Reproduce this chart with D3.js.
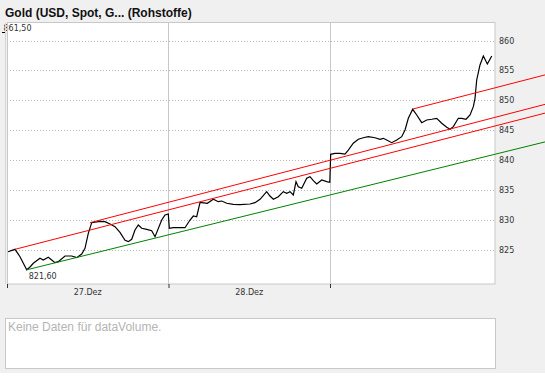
<!DOCTYPE html>
<html lang="de">
<head>
<meta charset="UTF-8">
<title>Gold (USD, Spot)</title>
<script src="https://d3js.org/d3.v7.min.js"></script>
<style>
body { margin: 0; background: #fff; }
svg { display: block; }
.ax text { font: 8px "DejaVu Sans", sans-serif; fill: #333; }
</style>
</head>
<body>
<svg id="chart" width="545" height="384"></svg>
<script>
// price path: hours after 27.12. 00:00 and price in USD
var hours = [0.15, 1.19, 1.93, 2.93, 3.42, 3.91, 4.90, 5.39, 6.14, 6.64, 7.13, 7.62, 8.62, 9.61, 10.36, 11.10,
  11.59, 12.08, 12.59, 13.82, 14.56, 15.31, 16.05, 16.79, 17.54, 18.03, 18.53, 19.02, 19.51, 20.02, 20.76, 21.50,
  22.00, 22.99, 23.48, 23.97, 24.12, 24.71, 26.45, 27.20, 27.69, 28.19, 28.68, 28.93, 29.77, 30.66, 31.40, 31.91,
  32.65, 33.63, 34.63, 36.11, 36.85, 37.60, 38.59, 39.08, 39.58, 40.32, 41.06, 41.57, 42.06, 42.55, 42.95, 43.29,
  43.80, 44.54, 45.03, 45.52, 46.03, 46.77, 47.51, 47.97, 48.10, 48.74, 49.49, 50.23, 50.72, 51.46, 52.21, 52.95,
  53.69, 54.69, 55.43, 55.92, 56.43, 57.17, 57.91, 58.66, 59.15, 59.64, 60.29, 60.89, 61.63, 62.37, 63.12, 63.86,
  64.60, 65.35, 65.84, 66.33, 67.07, 67.58, 68.21, 68.81, 69.30, 69.55, 69.80, 70.29, 70.79, 71.38, 72.04];
var prices = [824.63, 825.03, 823.79, 821.60, 822.07, 822.69, 823.53, 823.24, 823.69, 823.24, 822.79, 822.96, 823.91, 823.91, 823.63, 824.25,
  825.20, 827.71, 829.49, 829.72, 829.66, 829.27, 828.82, 827.85, 826.54, 826.31, 826.71, 828.27, 829.10, 828.55, 828.38, 828.15,
  827.14, 829.94, 830.78, 830.95, 828.55, 828.65, 828.65, 829.94, 830.61, 830.49, 832.84, 832.84, 832.74, 833.41, 833.01, 833.12,
  832.74, 832.57, 832.50, 832.62, 832.84, 833.41, 834.68, 833.96, 833.41, 833.84, 834.68, 834.41, 834.68, 834.13, 836.35, 835.52,
  835.25, 836.92, 837.19, 836.52, 835.97, 836.64, 836.36, 836.25, 840.94, 841.11, 841.11, 840.99, 841.66, 842.79, 843.46, 843.72,
  843.89, 843.72, 843.46, 843.62, 843.34, 842.89, 843.34, 843.89, 845.01, 846.97, 848.48, 847.53, 846.24, 846.69, 846.81, 846.97,
  846.14, 845.47, 845.13, 845.57, 846.97, 846.97, 846.81, 847.53, 848.92, 850.32, 853.39, 855.90, 857.41, 856.07, 857.41];

var yTicks = [825, 830, 835, 840, 845, 850, 855, 860];
var dayTicks = [0, 1, 2];          // days after 27.12.
var dayLabels = [0, 1];            // labelled days
var maxValue = 861.5, minValue = 821.6, minHour = 2.93;

// trend lines: start and end as hour / price
var trendFromHour = [2.93, 1.19, 12.33, 60.33];
var trendFromValue = [821.60, 825.03, 829.49, 848.53];
var trendToHour = [80, 80, 80, 80];
var trendToValue = [843.03, 847.85, 849.32, 854.25];
var trendKind = ["support", "resistance", "resistance", "resistance"];

var svg = d3.select("#chart");
var t0 = new Date(2007, 11, 27);
var toDate = h => new Date(t0.getTime() + h * 3600e3);
var de = d3.timeFormatLocale({
  dateTime: "%A, der %e. %B %Y, %X", date: "%d.%m.%Y", time: "%H:%M:%S",
  periods: ["AM", "PM"],
  days: ["Sonntag", "Montag", "Dienstag", "Mittwoch", "Donnerstag", "Freitag", "Samstag"],
  shortDays: ["So", "Mo", "Di", "Mi", "Do", "Fr", "Sa"],
  months: ["Januar", "Februar", "März", "April", "Mai", "Juni", "Juli", "August", "September", "Oktober", "November", "Dezember"],
  shortMonths: ["Jan", "Feb", "Mär", "Apr", "Mai", "Jun", "Jul", "Aug", "Sep", "Okt", "Nov", "Dez"]
});
var fmtDay = de.format("%d.%b");
var fmtNum = d3.format(".2f");
var deNum = v => fmtNum(v).replace(".", ",");

var plot = {left: 7, right: 495, top: 22.5, bottom: 284};

var x = d3.scaleTime()
  .domain([toDate(0), toDate(72)])
  .range([plot.left, 491.5]);
var y = d3.scaleLinear()
  .domain([825, 860])
  .range([249.5, 40.5]);

// page background
svg.append("rect").attr("width", 545).attr("height", 373).attr("fill", "#f0f0f0");

svg.append("text")
  .attr("x", 5).attr("y", 17)
  .style("font", "bold 12px 'Liberation Sans', Arial, sans-serif")
  .attr("fill", "#111")
  .text("Gold (USD, Spot, G... (Rohstoffe)");

// plot area
svg.append("rect")
  .attr("x", plot.left).attr("y", plot.top)
  .attr("width", plot.right - plot.left).attr("height", plot.bottom - plot.top)
  .attr("fill", "#fff");

// max label sits under the left border
svg.append("text")
  .attr("x", 3.5).attr("y", y(maxValue) - 1)
  .style("font", "8px 'DejaVu Sans', sans-serif").attr("fill", "#333")
  .text(deNum(maxValue));
svg.append("line")
  .attr("x1", 2).attr("x2", 6)
  .attr("y1", Math.round(y(maxValue)) + 0.5).attr("y2", Math.round(y(maxValue)) + 0.5)
  .attr("stroke", "#000");

// horizontal grid
svg.append("g")
  .selectAll("line").data(yTicks).join("line")
  .attr("x1", plot.left).attr("x2", plot.right)
  .attr("y1", d => Math.round(y(d)) + 0.5).attr("y2", d => Math.round(y(d)) + 0.5)
  .attr("stroke", "#b8b8b8").attr("stroke-dasharray", "1,2");

// vertical day lines
svg.append("g")
  .selectAll("line").data(dayTicks.slice(1)).join("line")
  .attr("x1", d => Math.round(x(toDate(d * 24))) + 0.5).attr("x2", d => Math.round(x(toDate(d * 24))) + 0.5)
  .attr("y1", plot.top).attr("y2", plot.bottom)
  .attr("stroke", "#c8c8c8");

svg.append("rect")
  .attr("x", plot.left + 0.5).attr("y", plot.top)
  .attr("width", plot.right - plot.left - 0.5).attr("height", plot.bottom - plot.top)
  .attr("fill", "none").attr("stroke", "#c8c8c8");
svg.append("line")
  .attr("x1", 5.5).attr("x2", 5.5).attr("y1", plot.top).attr("y2", plot.bottom)
  .attr("stroke", "#d4d4d4");

// y axis on the right
var yAxis = d3.axisRight(y).tickValues(yTicks).tickSize(0).tickPadding(4).tickFormat(d3.format("d"));
svg.append("g").attr("class", "ax")
  .attr("transform", `translate(${plot.right},0)`)
  .call(yAxis)
  .call(g => g.select(".domain").remove());

// x axis: ticks at midnight, labels at noon
var xAxis = d3.axisBottom(x).tickValues(dayTicks.map(d => toDate(d * 24))).tickSize(4).tickFormat("");
svg.append("g").attr("class", "ax")
  .attr("transform", `translate(0,${plot.bottom})`)
  .call(xAxis)
  .call(g => g.select(".domain").remove())
  .call(g => g.selectAll(".tick line").attr("stroke", "#333"));
svg.append("g").attr("class", "ax")
  .selectAll("text").data(dayLabels).join("text")
  .attr("x", d => x(toDate(d * 24 + 12)))
  .attr("y", 295)
  .attr("text-anchor", "middle")
  .text(d => fmtDay(toDate(d * 24)));

// price line
var line = d3.line()
  .x((d, i) => x(toDate(hours[i])))
  .y(d => y(d));
svg.append("path")
  .datum(prices)
  .attr("d", line)
  .attr("fill", "none")
  .attr("stroke", "#000")
  .attr("stroke-width", 1.2);

svg.append("text")
  .attr("x", x(toDate(minHour)) + 2).attr("y", y(minValue) + 9)
  .style("font", "8px 'DejaVu Sans', sans-serif").attr("fill", "#333")
  .text(deNum(minValue));

// trend lines run past the plot to the page edge
svg.append("g")
  .selectAll("line").data(trendKind).join("line")
  .attr("x1", (d, i) => x(toDate(trendFromHour[i])))
  .attr("y1", (d, i) => y(trendFromValue[i]))
  .attr("x2", (d, i) => x(toDate(trendToHour[i])))
  .attr("y2", (d, i) => y(trendToValue[i]))
  .attr("stroke", d => d == "support" ? "#008000" : "#ff0000")
  .attr("stroke-width", 1);

// empty volume panel
svg.append("rect")
  .attr("x", 5.5).attr("y", 318.5).attr("width", 490).attr("height", 50)
  .attr("fill", "#fff").attr("stroke", "#c8c8c8");
svg.append("text")
  .attr("x", 8).attr("y", 331)
  .style("font", "12px 'Liberation Sans', Arial, sans-serif")
  .attr("fill", "#b4b4b4")
  .text("Keine Daten für dataVolume.");
</script>
</body>
</html>
